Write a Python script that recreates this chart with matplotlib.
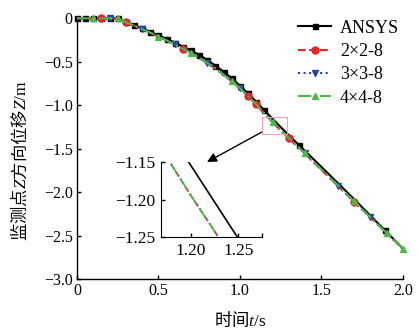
import numpy as np
import matplotlib
matplotlib.use("Agg")
import matplotlib.pyplot as plt
from matplotlib.patches import Rectangle

plt.rcParams['font.family'] = ['Liberation Serif', 'Noto Sans CJK SC']
plt.rcParams['mathtext.fontset'] = 'custom'
plt.rcParams['mathtext.rm'] = 'Liberation Serif'
plt.rcParams['mathtext.it'] = 'Liberation Serif:italic'
plt.rcParams['axes.unicode_minus'] = True

# ANSYS reference curve (time in s, displacement in m)
t_ansys = [0, 0.05, 0.1, 0.15, 0.2, 0.25, 0.3, 0.35, 0.4, 0.45, 0.5, 0.55, 0.6,
           0.65, 0.7, 0.75, 0.8, 0.85, 0.9, 0.95, 1.0, 1.05, 1.1, 1.15, 1.2, 1.25,
           1.3, 1.36, 1.5, 1.6, 1.7, 1.8, 1.89, 2.0]
z_ansys = [0, 0, 0, 0, 0, 0, -0.04, -0.08, -0.115, -0.155, -0.195, -0.235, -0.28,
           -0.325, -0.37, -0.42, -0.48, -0.545, -0.615, -0.69, -0.775, -0.865, -0.96,
           -1.06, -1.155, -1.252, -1.345, -1.455, -1.71, -1.895, -2.08, -2.27, -2.44, -2.65]

# mesh results share one time grid
t_mesh = [0, 0.05, 0.1, 0.15, 0.2, 0.25, 0.3, 0.35, 0.4, 0.45, 0.5, 0.55, 0.6,
          0.65, 0.7, 0.75, 0.8, 0.85, 0.9, 0.95, 1.0, 1.05, 1.1, 1.15, 1.2, 1.25,
          1.3, 1.4, 1.5, 1.6, 1.7, 1.8, 1.9, 2.0]
z_2x2 = [0, 0, 0, 0, 0, 0, -0.045, -0.085, -0.125, -0.165, -0.21, -0.255, -0.3,
         -0.35, -0.4, -0.455, -0.515, -0.58, -0.65, -0.725, -0.805, -0.895, -0.99,
         -1.095, -1.195, -1.29, -1.38, -1.56, -1.745, -1.925, -2.11, -2.29, -2.47, -2.655]
z_3x3 = [0, 0, 0, 0, 0, 0, -0.045, -0.085, -0.125, -0.165, -0.21, -0.255, -0.3,
         -0.35, -0.4, -0.455, -0.515, -0.58, -0.65, -0.725, -0.805, -0.895, -0.99,
         -1.095, -1.195, -1.29, -1.38, -1.555, -1.74, -1.925, -2.11, -2.29, -2.47, -2.655]
z_4x4 = [0, 0, 0, 0, 0, 0, -0.045, -0.085, -0.125, -0.165, -0.21, -0.255, -0.3,
         -0.35, -0.4, -0.455, -0.515, -0.58, -0.65, -0.725, -0.805, -0.895, -0.99,
         -1.095, -1.195, -1.29, -1.38, -1.555, -1.74, -1.92, -2.105, -2.29, -2.47, -2.65]

labels = ['ANSYS', '2×2-8', '3×3-8', '4×4-8']
mark_ansys = list(range(0, 24)) + [27, 32]
mark_2x2 = [3, 6, 13, 21, 22, 26, 30]
mark_3x3 = [4, 8, 12, 16, 20, 27, 29, 31]
mark_4x4 = [2, 5, 10, 14, 19, 24, 27, 30, 32, 33]

c_red = '#e8232b'
c_blue = '#2346a6'
c_green = '#4cb847'

fig = plt.figure(figsize=(4.18, 3.33), dpi=100)
ax = fig.add_axes([0.184, 0.162, 0.780, 0.783])

ax.plot(t_ansys, z_ansys, '-', color='black', lw=1.5, marker='s', ms=3.6,
        markevery=mark_ansys, label=labels[0], clip_on=False, zorder=3)
ax.plot(t_mesh, z_2x2, '--', color=c_red, lw=1.5, marker='o', ms=5,
        markevery=mark_2x2, label=labels[1], clip_on=False, zorder=4)
ax.plot(t_mesh, z_3x3, ':', color=c_blue, lw=1.5, marker='v', ms=5,
        markevery=mark_3x3, label=labels[2], clip_on=False, zorder=5)
ax.plot(t_mesh, z_4x4, '-.', color=c_green, lw=1.5, marker='^', ms=5,
        markevery=mark_4x4, label=labels[3], clip_on=False, zorder=6)

ax.set_xlim(0, 2.0)
ax.set_ylim(-3.0, 0)
ax.set_xticks([0, 0.5, 1.0, 1.5, 2.0])
ax.set_xticklabels(['0', '0.5', '1.0', '1.5', '2.0'])
ax.set_yticks([0, -0.5, -1.0, -1.5, -2.0, -2.5, -3.0])
ax.set_yticklabels(['0', '−0.5', '−1.0', '−1.5', '−2.0', '−2.5', '−3.0'])
ax.tick_params(direction='in', length=3, width=1, labelsize=11.5, pad=3)
for s in ['top', 'right']:
    ax.spines[s].set_visible(False)
for s in ['left', 'bottom']:
    ax.spines[s].set_linewidth(1.0)

ax.set_xlabel('时间$t\\mathrm{/s}$', fontsize=12.5, family='Noto Sans CJK SC')
ax.set_ylabel('监测点$Z$方向位移$Z\\mathrm{/m}$', fontsize=12.5,
              family='Noto Sans CJK SC')
ax.xaxis.set_label_coords(0.5, -0.118)
ax.yaxis.set_label_coords(-0.145, 0.455)

ax.legend(loc='upper left', bbox_to_anchor=(0.692, 0.968),
          bbox_transform=fig.transFigure, frameon=False, fontsize=13,
          handlelength=1.8, handletextpad=0.5, labelspacing=0.35, borderpad=0)

# zoom box on main curve
ax.add_patch(Rectangle((1.135, -1.33), 0.153, 0.196, fill=False,
                       edgecolor='#f2a0b4', lw=0.8, zorder=7))
ax.annotate('', xy=(207, 333 - 162), xycoords='figure pixels',
            xytext=(262, 333 - 132), textcoords='figure pixels',
            arrowprops=dict(arrowstyle='-|>', color='black', lw=1.0,
                            mutation_scale=14, shrinkA=0, shrinkB=0))

# inset
axi = fig.add_axes([0.385, 0.288, 0.2416, 0.225])
axi.patch.set_alpha(0)
axi.plot(t_ansys, z_ansys, '-', color='black', lw=1.2)
axi.plot(t_mesh, z_2x2, '--', color=c_red, lw=1.2)
axi.plot(t_mesh, z_3x3, ':', color=c_blue, lw=1.2)
axi.plot(t_mesh, z_4x4, '-.', color=c_green, lw=1.2)
axi.set_xlim(1.168, 1.275)
axi.set_ylim(-1.25, -1.15)
axi.set_xticks([1.20, 1.25])
axi.set_xticklabels(['1.20', '1.25'])
axi.set_xticks([1.275], minor=True)
axi.set_yticks([-1.15, -1.20, -1.25])
axi.set_yticklabels(['−1.15', '−1.20', '−1.25'])
axi.tick_params(which='both', direction='in', length=3, width=1, labelsize=12.5, pad=4)
for s in ['top', 'right']:
    axi.spines[s].set_visible(False)

fig.savefig('out.png', dpi=100)
